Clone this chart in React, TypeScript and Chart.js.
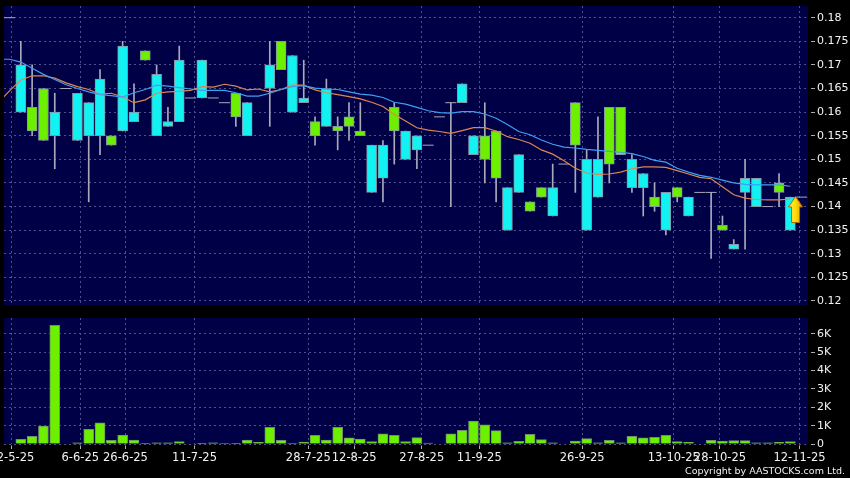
import React, { useEffect, useRef } from "react";
import { Chart, registerables } from "chart.js";

Chart.register(...registerables);

// One slot per trading session shown on the chart (slot 0 .. 70)
const OPEN = [0.18, 0.17, 0.156, 0.154, 0.16, 0.165, 0.164, 0.162, 0.167, 0.153, 0.174, 0.16, 0.171, 0.168, 0.158, 0.171, 0.163, 0.171, 0.163, 0.162, 0.159, 0.162, null, 0.17, 0.169, 0.172, 0.163, 0.155, 0.165, 0.156, 0.157, 0.155, 0.153, 0.153, 0.156, 0.156, 0.155, 0.153, 0.159, 0.162, 0.166, 0.155, 0.15, 0.146, 0.144, 0.151, 0.139, 0.142, 0.144, 0.149, 0.153, 0.15, 0.15, 0.149, 0.151, 0.15, 0.147, 0.14, 0.143, 0.142, 0.142, 0.143, 0.143, 0.135, 0.132, 0.146, 0.146, 0.14, 0.143, 0.142, 0.142];
const HIGH = [0.18, 0.175, 0.17, 0.165, 0.164, 0.165, 0.164, 0.162, 0.169, 0.155, 0.175, 0.166, 0.173, 0.17, 0.161, 0.174, 0.163, 0.171, 0.163, 0.162, 0.164, 0.162, null, 0.175, 0.175, 0.172, 0.171, 0.159, 0.167, 0.159, 0.162, 0.162, 0.153, 0.154, 0.162, 0.156, 0.155, 0.153, 0.159, 0.162, 0.166, 0.155, 0.162, 0.156, 0.144, 0.151, 0.141, 0.144, 0.149, 0.149, 0.162, 0.152, 0.159, 0.161, 0.161, 0.151, 0.147, 0.145, 0.143, 0.144, 0.142, 0.143, 0.143, 0.138, 0.133, 0.15, 0.146, 0.14, 0.147, 0.142, 0.142];
const LOW = [0.18, 0.16, 0.155, 0.154, 0.148, 0.165, 0.154, 0.141, 0.151, 0.153, 0.156, 0.158, 0.171, 0.155, 0.157, 0.158, 0.163, 0.163, 0.163, 0.162, 0.157, 0.155, null, 0.157, 0.169, 0.16, 0.162, 0.153, 0.157, 0.152, 0.154, 0.155, 0.143, 0.141, 0.149, 0.15, 0.148, 0.153, 0.159, 0.14, 0.162, 0.151, 0.145, 0.141, 0.135, 0.143, 0.139, 0.142, 0.138, 0.149, 0.143, 0.135, 0.142, 0.145, 0.151, 0.143, 0.138, 0.139, 0.134, 0.141, 0.138, 0.143, 0.129, 0.135, 0.131, 0.131, 0.14, 0.14, 0.14, 0.135, 0.142];
const CLOSE = [0.18, 0.16, 0.161, 0.165, 0.155, 0.165, 0.154, 0.155, 0.155, 0.155, 0.156, 0.158, 0.173, 0.155, 0.157, 0.158, 0.163, 0.163, 0.163, 0.162, 0.164, 0.155, null, 0.165, 0.175, 0.16, 0.162, 0.158, 0.157, 0.157, 0.159, 0.156, 0.143, 0.146, 0.161, 0.15, 0.152, 0.153, 0.159, 0.162, 0.162, 0.151, 0.155, 0.156, 0.135, 0.143, 0.141, 0.144, 0.138, 0.149, 0.162, 0.135, 0.142, 0.161, 0.161, 0.144, 0.144, 0.142, 0.135, 0.144, 0.138, 0.143, 0.143, 0.136, 0.131, 0.143, 0.14, 0.14, 0.145, 0.135, 0.142];
const VOLUME = [0, 250, 420, 980, 6470, 0, 70, 800, 1160, 200, 480, 220, 20, 70, 70, 130, 0, 40, 70, 30, 40, 220, 90, 910, 200, 30, 110, 470, 220, 910, 330, 270, 130, 550, 470, 130, 350, 50, 0, 560, 750, 1250, 1050, 730, 70, 150, 530, 240, 70, 0, 160, 290, 70, 200, 70, 420, 330, 360, 470, 130, 90, 0, 200, 160, 180, 180, 70, 70, 90, 130, 0];

// Moving averages, first value belongs to slot -1 (just left of the visible window)
const MA_FIRST_SLOT = -1;
const MA_SHORT = [0.162, 0.1645, 0.1668, 0.1677, 0.1677, 0.1672, 0.1662, 0.1654, 0.1648, 0.1638, 0.164, 0.1632, 0.162, 0.1626, 0.164, 0.1643, 0.1644, 0.1646, 0.1654, 0.1653, 0.1659, 0.1655, 0.1647, 0.1649, 0.1643, 0.1648, 0.1657, 0.1657, 0.1647, 0.1641, 0.1637, 0.1633, 0.1628, 0.1621, 0.1612, 0.1595, 0.1581, 0.1567, 0.1562, 0.1559, 0.1555, 0.1561, 0.1567, 0.1567, 0.156, 0.1548, 0.1542, 0.1534, 0.152, 0.1511, 0.1497, 0.1481, 0.1471, 0.1468, 0.1469, 0.1473, 0.148, 0.1484, 0.1484, 0.1483, 0.1476, 0.1469, 0.1462, 0.1459, 0.1442, 0.1425, 0.1418, 0.1415, 0.1414, 0.1414, 0.1416, null];
const MA_LONG = [0.1712, 0.1712, 0.1706, 0.1693, 0.168, 0.1669, 0.1658, 0.165, 0.1643, 0.1637, 0.1635, 0.1632, 0.1641, 0.1648, 0.1657, 0.1655, 0.1652, 0.1649, 0.1646, 0.1646, 0.1646, 0.1641, 0.1634, 0.1634, 0.164, 0.1648, 0.1654, 0.1656, 0.1651, 0.1649, 0.1648, 0.1643, 0.1638, 0.1636, 0.1631, 0.1621, 0.1617, 0.161, 0.1603, 0.1599, 0.1598, 0.1601, 0.1601, 0.1596, 0.1587, 0.1574, 0.1559, 0.1552, 0.1541, 0.1532, 0.1526, 0.1524, 0.1521, 0.1519, 0.1517, 0.1515, 0.1512, 0.1506, 0.1498, 0.1494, 0.1481, 0.1473, 0.1466, 0.1462, 0.1456, 0.145, 0.1447, 0.1446, 0.1446, 0.1446, 0.1443, null];

const DATE_TICK_POS = [0.21, 6.25, 10.25, 16.35, 26.4, 30.46, 36.43, 41.51, 50.61, 58.7, 62.78, 69.81];
const DATE_TICK_LABELS = ["22-5-25", "6-6-25", "26-6-25", "11-7-25", "28-7-25", "12-8-25", "27-8-25", "11-9-25", "26-9-25", "13-10-25", "28-10-25", "12-11-25"];
const PRICE_TICKS = [0.12, 0.125, 0.13, 0.135, 0.14, 0.145, 0.15, 0.155, 0.16, 0.165, 0.17, 0.175, 0.18];
const VOLUME_TICKS = [0, 1000, 2000, 3000, 4000, 5000, 6000];
const LAST_MARKER = { slot: 69.46, price: 0.1394 };

// axis windows
const X_MIN = -0.486;
const X_MAX = 70.56;
const PRICE_MIN = 0.11915;
const PRICE_MAX = 0.18248;
const VOL_MAX = 6870;

// styles
const NAVY = "#000046";
const GRID = "#50508e";
const CYAN = "#12f2f2";
const GREEN = "#6cf000";
const BODY_BORDER = "#8497a4";
const WICK = "#a9a9ba";
const TEXT = "#f2f2f2";
const TICK = "#b0b0b0";
const MA_BLUE = "#3ea0f0";
const MA_ORANGE = "#df8650";
const FONT = "'DejaVu Sans', sans-serif";

const plotBg = {
  id: "plotBg",
  beforeDraw(chart: any) {
    const { ctx, chartArea: a } = chart;
    ctx.save();
    ctx.fillStyle = NAVY;
    ctx.fillRect(a.left, a.top, a.right - a.left, a.bottom - a.top);
    ctx.restore();
  },
};

function makeArrow(): HTMLCanvasElement {
  const c = document.createElement("canvas");
  c.width = 15;
  c.height = 27;
  const g = c.getContext("2d")!;
  g.beginPath();
  g.moveTo(7.5, 0.5);
  g.lineTo(14.5, 11);
  g.lineTo(11.5, 11);
  g.lineTo(11.5, 26.5);
  g.lineTo(3.5, 26.5);
  g.lineTo(3.5, 11);
  g.lineTo(0.5, 11);
  g.closePath();
  const grad = g.createLinearGradient(0, 0, 15, 0);
  grad.addColorStop(0, "#fff36a");
  grad.addColorStop(0.5, "#ffdc00");
  grad.addColorStop(1, "#d89400");
  g.fillStyle = grad;
  g.fill();
  g.strokeStyle = "#a86a00";
  g.lineWidth = 1;
  g.stroke();
  return c;
}

function xAxis(withLabels: boolean): any {
  return {
    type: "linear",
    min: X_MIN,
    max: X_MAX,
    bounds: "data",
    offset: false,
    afterBuildTicks: (s: any) => {
      s.ticks = DATE_TICK_POS.map((value) => ({ value }));
    },
    afterFit: (s: any) => {
      s.height = withLabels ? 34 : 0;
      s.paddingLeft = 0;
      s.paddingRight = 0;
    },
    border: { display: false, dash: [2, 3] },
    grid: {
      color: GRID,
      lineWidth: 1,
      offset: false,
      drawTicks: withLabels,
      tickLength: 5,
      tickColor: TICK,
      tickBorderDash: [0, 1.5, 10],
    },
    ticks: {
      display: withLabels,
      autoSkip: false,
      maxRotation: 0,
      minRotation: 0,
      padding: 2,
      color: TEXT,
      font: { family: FONT, size: 11.5 },
      callback: (_v: any, i: number) => DATE_TICK_LABELS[i],
    },
  };
}

function yAxis(min: number, max: number, tickValues: number[], fmt: (v: number) => string): any {
  return {
    type: "linear",
    position: "right",
    min,
    max,
    bounds: "data",
    afterBuildTicks: (s: any) => {
      s.ticks = tickValues.map((value) => ({ value }));
    },
    afterFit: (s: any) => {
      s.width = 42;
      s.paddingTop = 0;
      s.paddingBottom = 0;
    },
    border: { display: false, dash: [2, 3] },
    grid: {
      color: GRID,
      lineWidth: 1,
      tickLength: 7,
      tickColor: TICK,
      tickBorderDash: [0, 3, 10],
    },
    ticks: {
      padding: 2,
      color: TEXT,
      font: { family: FONT, size: 11 },
      callback: (v: any) => fmt(Number(v)),
    },
  };
}

export default function App() {
  const priceRef = useRef<HTMLCanvasElement>(null);
  const volRef = useRef<HTMLCanvasElement>(null);

  useEffect(() => {
    Chart.defaults.font.family = FONT;
    const slots = OPEN.map((_, i) => i);

    const wickData = slots
      .filter((i) => LOW[i] != null && (HIGH[i] as number) > (LOW[i] as number))
      .map((i) => ({ x: i, y: [LOW[i], HIGH[i]] }));
    const bodyIdx = slots.filter((i) => OPEN[i] != null && OPEN[i] !== CLOSE[i]);
    const bodyData = bodyIdx.map((i) => ({ x: i, y: [OPEN[i], CLOSE[i]] }));
    const bodyColors = bodyIdx.map((i) => ((CLOSE[i] as number) > (OPEN[i] as number) ? GREEN : CYAN));
    const dojiData = slots
      .filter((i) => OPEN[i] != null && OPEN[i] === CLOSE[i])
      .map((i) => ({ x: i, y: CLOSE[i] }));
    const maShort = MA_SHORT.map((v, i) => ({ x: MA_FIRST_SLOT + i, y: v }));
    const maLong = MA_LONG.map((v, i) => ({ x: MA_FIRST_SLOT + i, y: v }));

    const common: any = {
      responsive: false,
      maintainAspectRatio: false,
      animation: false,
      events: [],
      plugins: { legend: { display: false }, tooltip: { enabled: false } },
    };

    const priceChart = new Chart(priceRef.current!, {
      type: "bar",
      data: {
        datasets: [
          {
            type: "line",
            data: [{ x: LAST_MARKER.slot, y: LAST_MARKER.price }],
            showLine: false,
            pointStyle: makeArrow() as any,
            pointRadius: 8,
            order: 0,
            clip: 0,
          } as any,
          {
            type: "line",
            data: maLong,
            borderColor: MA_BLUE,
            borderWidth: 1.2,
            pointRadius: 0,
            tension: 0,
            order: 1,
            clip: 0,
          },
          {
            type: "line",
            data: maShort,
            borderColor: MA_ORANGE,
            borderWidth: 1.2,
            pointRadius: 0,
            tension: 0,
            order: 2,
            clip: 0,
          },
          {
            type: "line",
            data: dojiData,
            showLine: false,
            pointStyle: "line",
            pointRadius: 5.5,
            pointBorderColor: WICK,
            pointBorderWidth: 1,
            borderColor: WICK,
            order: 3,
            clip: 0,
          } as any,
          {
            type: "bar",
            data: bodyData as any,
            backgroundColor: bodyColors,
            borderColor: BODY_BORDER,
            borderWidth: 1,
            borderSkipped: false,
            barThickness: 10,
            grouped: false,
            order: 4,
            clip: 0,
          } as any,
          {
            type: "bar",
            data: wickData as any,
            backgroundColor: WICK,
            borderWidth: 0,
            barThickness: 1,
            grouped: false,
            order: 5,
            clip: 0,
          } as any,
        ],
      },
      options: {
        ...common,
        layout: { autoPadding: false, padding: { left: 4, top: 6, right: 0, bottom: 5 } },
        scales: {
          x: xAxis(false),
          y: yAxis(PRICE_MIN, PRICE_MAX, PRICE_TICKS, (v) => String(v)),
        },
      },
      plugins: [plotBg],
    });

    const volChart = new Chart(volRef.current!, {
      type: "bar",
      data: {
        datasets: [
          {
            data: VOLUME.map((v, i) => ({ x: i, y: v })) as any,
            backgroundColor: GREEN,
            borderColor: "#6f8f6a",
            borderWidth: 1,
            barThickness: 10,
            grouped: false,
            clip: 0,
          } as any,
        ],
      },
      options: {
        ...common,
        layout: { autoPadding: false, padding: { left: 4, top: 8, right: 0, bottom: 0 } },
        scales: {
          x: xAxis(true),
          y: yAxis(0, VOL_MAX, VOLUME_TICKS, (v) => (v === 0 ? "0" : `${v / 1000}K`)),
        },
      },
      plugins: [plotBg],
    });

    return () => {
      priceChart.destroy();
      volChart.destroy();
    };
  }, []);

  return (
    <div
      style={{
        position: "fixed",
        left: 0,
        top: 0,
        width: 850,
        height: 478,
        background: "#000",
        overflow: "hidden",
      }}
    >
      <canvas ref={priceRef} width={850} height={310} style={{ position: "absolute", left: 0, top: 0, display: "block" }} />
      <canvas ref={volRef} width={850} height={168} style={{ position: "absolute", left: 0, top: 310, display: "block" }} />
      <div
        style={{
          position: "absolute",
          right: 5,
          top: 465,
          color: TEXT,
          fontFamily: FONT,
          fontSize: 9.5,
          lineHeight: "11px",
          whiteSpace: "nowrap",
        }}
      >
        Copyright by AASTOCKS.com Ltd.
      </div>
    </div>
  );
}
